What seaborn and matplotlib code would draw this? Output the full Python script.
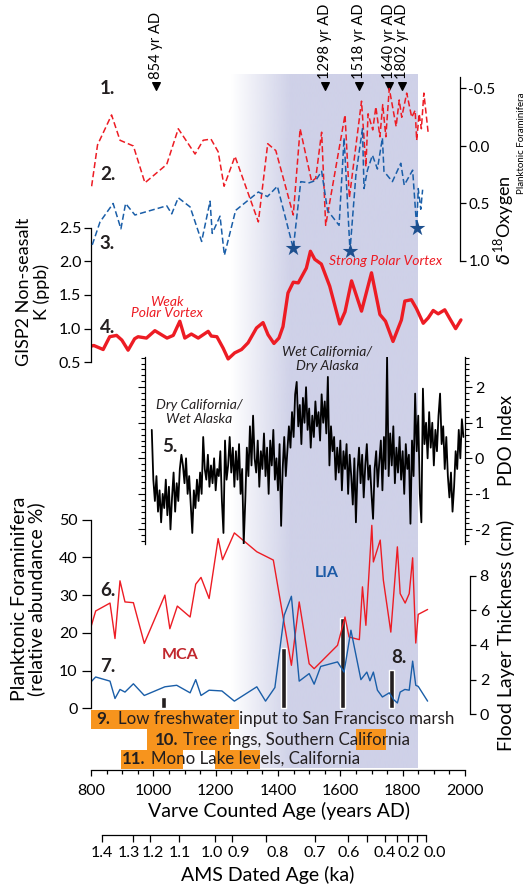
import numpy as np
import matplotlib
matplotlib.use("Agg")
import matplotlib.pyplot as plt
from matplotlib.colors import to_rgb
from matplotlib.patches import Rectangle
from matplotlib.ticker import MultipleLocator, FixedLocator, NullFormatter, FormatStrFormatter
import seaborn as sns

# --- Canvas geometry (pixels of the 526x888 output) ---
W, H = 526, 888
PX_800, PX_2000 = 91, 465   # x pixel of 800 AD and of 2000 AD

# --- Colours ---
RED = '#ed1c24'
BLUE = '#1a5ea8'
STAR_BLUE = '#1d4f8e'
ORANGE = '#f7941d'
LIA_SHADE = '#cfd1e8'
MCA_RED = '#c1272d'
LIA_BLUE = '#1c5aa6'

# --- 1. / 2. d18O planktonic foraminifera (per mil, axis inverted) ---
D18O_RED_YEARS = [802, 821, 866, 893, 936, 973, 1043, 1080, 1134, 1160, 1185, 1208, 1227, 1262, 1337,
                  1367, 1393, 1449, 1471, 1508, 1521, 1540, 1553, 1615, 1629, 1668, 1682, 1689, 1704,
                  1714, 1727, 1736, 1746, 1757, 1779, 1789, 1797, 1813, 1829, 1840, 1845, 1853, 1860,
                  1868, 1882]
D18O_RED = [0.35, -0.01, -0.27, -0.05, 0.00, 0.32, 0.16, -0.15, 0.07, -0.05, -0.06, 0.05, 0.35, 0.09, 0.66,
            -0.02, 0.04, 0.60, -0.15, 0.31, 0.28, -0.12, 0.69, -0.27, 0.45, -0.39, 0.18, -0.28, -0.14,
            -0.34, -0.08, -0.36, -0.08, -0.50, -0.17, -0.40, -0.25, -0.46, -0.25, -0.31, -0.05, -0.28, -0.15,
            -0.46, -0.11]

D18O_BLUE_YEARS = [804, 829, 871, 896, 911, 941, 1043, 1059, 1080, 1118, 1155, 1182, 1189, 1214, 1228,
                   1264, 1337, 1366, 1398, 1449, 1473, 1500, 1521, 1540, 1559, 1596, 1612, 1631, 1650,
                   1671, 1676, 1687, 1703, 1719, 1735, 1740, 1767, 1794, 1805, 1832, 1845, 1850, 1858, 1864]
D18O_BLUE = [0.86, 0.66, 0.50, 0.72, 0.50, 0.60, 0.52, 0.59, 0.45, 0.53, 0.83, 0.48, 0.76, 0.61, 0.95,
             0.56, 0.40, 0.44, 0.35, 0.89, 0.31, 0.32, 0.30, 0.22, 0.56, 0.69, -0.07, 0.91, 0.25,
             -0.15, 0.37, 0.21, 0.08, 0.20, -0.07, 0.22, 0.31, 0.15, 0.34, 0.21, 0.71, 0.37, 0.55, 0.38]

STAR_YEARS = [1449, 1631, 1845]
STAR_D18O = [0.89, 0.91, 0.71]

# --- 4. GISP2 non-seasalt K (ppb) ---
K_YEARS = [800, 809, 839, 860, 882, 899, 919, 940, 951, 978, 1005, 1026, 1044, 1064, 1085, 1101, 1122,
           1144, 1176, 1186, 1204, 1224, 1240, 1261, 1283, 1304, 1331, 1352, 1368, 1387, 1403, 1416,
           1432, 1449, 1465, 1491, 1504, 1518, 1539, 1566, 1598, 1615, 1636, 1668, 1700, 1727, 1745,
           1769, 1796, 1807, 1828, 1844, 1866, 1882, 1898, 1914, 1935, 1951, 1970, 1987]
K_PPB = [0.74, 0.75, 0.69, 0.88, 0.90, 0.83, 0.68, 0.85, 0.88, 0.86, 0.97, 0.91, 0.86, 0.90, 1.11, 0.86, 0.92,
         0.86, 0.96, 0.89, 0.88, 0.71, 0.55, 0.64, 0.69, 0.79, 1.01, 1.09, 0.91, 0.78, 0.86, 1.03,
         1.53, 1.69, 1.68, 1.90, 2.15, 2.03, 1.96, 1.63, 1.07, 1.25, 1.71, 1.26, 1.83, 1.21, 1.11,
         0.81, 1.13, 1.41, 1.43, 1.30, 1.08, 1.16, 1.27, 1.22, 1.28, 1.15, 1.00, 1.13]

# --- 5. PDO index reconstruction, read every 5 years from 995 to 1995 ---
PDO_YEARS = list(range(995, 2000, 5))
PDO_INDEX = [
    0.8, -0.6, -1.2, -0.5, -1.5, -0.9, -1.8, -1.0, -1.4, -0.6,      # 995-1040
    -1.6, -0.8, -2.0, -1.1, -0.4, -1.5, -0.7, -1.2, -0.3, 0.1,      # 1045-1090
    -0.2, -0.7, 0.0, -1.0, -0.5, -1.3, -2.1, -0.9, -1.4, -0.6,      # 1095-1140
    -1.2, -0.4, -1.0, 0.6, -0.3, -0.6, 0.1, -0.8, -0.2, -0.7,       # 1145-1190
    0.0, -0.9, -0.3, -0.5, 0.2, -1.2, -2.1, 0.5, -0.6, -0.2,        # 1195-1240
    0.6, -0.4, 0.3, -0.8, 0.2, -0.6, 0.4, -1.0, -0.3, -2.4,         # 1245-1290
    -1.2, 0.3, -0.5, 0.9, -0.2, 1.2, 0.0, -0.4, 0.5, -0.8,          # 1295-1340
    0.2, -0.3, 0.7, -0.5, 0.3, -1.0, 0.5, -0.2, 0.8, -0.6,          # 1345-1390
    0.0, -0.9, 0.4, -1.9, -0.3, 0.6, -0.5, 0.2, 0.9, 0.3,           # 1395-1440
    1.3, 0.6, 1.8, 2.15, 0.9, 1.5, 0.4, 1.7, 1.0, 2.0,              # 1445-1490
    0.8, 1.4, 0.3, 1.2, 0.6, 1.6, 0.9, 1.3, 0.5, 1.8,               # 1495-1540
    1.0, 1.6, 0.7, 2.29, -0.2, 0.9, 0.2, 0.6, -0.6, 0.3,            # 1545-1590
    -0.4, 0.5, -0.9, 0.2, -0.3, 0.4, -1.0, 0.1, -0.5, -1.3,         # 1595-1640
    0.0, -1.8, -0.4, 0.3, -0.7, 0.1, -1.1, -0.2, 0.4, -0.6,         # 1645-1690
    -0.2, -1.0, -1.7, -0.3, 0.2, -0.8, -0.1, 0.5, -0.9, 0.6,        # 1695-1740
    -0.3, 2.85, -0.5, 0.7, -0.2, 0.9, -0.7, 0.3, -0.4, 0.6,         # 1745-1790
    -0.6, 0.2, -1.0, 0.4, -0.3, 0.1, -1.84, 0.5, -0.5, 1.82,        # 1795-1840
    0.2, 1.2, -1.0, -1.8, 1.96, 0.4, 1.0, 0.0, 1.3, 0.3,            # 1845-1890
    1.0, -0.2, 0.8, 0.2, 1.2, 1.82, 0.4, 0.9, -0.3, 0.6,            # 1895-1940
    -0.5, -1.1, -0.4, -1.5, -0.8, 0.2, -0.3, 0.8, 0.0, 1.1,         # 1945-1990
    0.6,                                                            # 1995
]

# --- 6. / 7. Planktonic foraminifera relative abundance (%) ---
FORAM_RED_YEARS = [800, 815, 861, 877, 893, 909, 936, 971, 1037, 1053, 1077, 1118, 1136, 1153, 1179, 1208,
                   1222, 1260, 1332, 1385, 1443, 1468, 1500, 1516, 1591, 1615, 1628, 1661, 1671, 1682,
                   1701, 1706, 1728, 1738, 1762, 1783, 1792, 1808, 1821, 1832, 1842, 1850, 1880]
FORAM_RED = [21.6, 25.8, 27.9, 18.5, 33.8, 28.2, 28.0, 17.2, 30.0, 21.1, 27.1, 24.2, 32.9, 34.7, 29.1, 45.0,
             39.4, 46.5, 41.5, 39.3, 11.4, 28.2, 11.8, 10.5, 16.7, 24.2, 18.9, 18.2, 32.2, 22.0,
             48.5, 38.8, 44.6, 34.0, 20.2, 42.8, 30.4, 27.9, 30.4, 39.9, 17.3, 24.9, 26.2]

FORAM_BLUE_YEARS = [800, 815, 861, 877, 893, 909, 936, 971, 1037, 1075, 1118, 1136, 1153, 1179, 1220, 1260,
                    1332, 1360, 1390, 1420, 1443, 1468, 1500, 1516, 1537, 1591, 1612, 1634, 1666, 1685,
                    1695, 1706, 1719, 1735, 1757, 1771, 1783, 1792, 1807, 1821, 1832, 1842, 1850, 1880]
FORAM_BLUE = [7.0, 8.3, 7.2, 2.6, 5.0, 4.3, 6.5, 3.4, 5.7, 6.1, 4.1, 7.6, 3.4, 4.8, 4.6, 1.9,
              5.7, 1.9, 5.5, 24.7, 29.7, 7.2, 9.2, 6.4, 11.1, 12.3, 9.6, 20.7, 7.6, 9.6,
              7.3, 9.6, 4.8, 3.0, 4.1, 2.3, 1.4, 4.3, 5.0, 4.8, 12.5, 6.1, 5.8, 1.9]

# --- 8. Flood layer thickness (cm) ---
FLOOD_YEARS = [1032, 1419, 1606, 1765]
FLOOD_CM = [0.98, 3.83, 5.56, 2.57]
FLOOD_BASE = 0.35

# --- 9.-11. Drought records (year spans shown in orange) ---
RECORD_9 = [(800, 1275)]
RECORD_10 = [(979, 1246), (1650, 1746)]
RECORD_11 = [(895, 1096), (1198, 1342)]

# --- Little Ice Age shading (fade-in start, fully shaded, end) ---
LIA_START, LIA_FULL, LIA_END = 1249, 1440, 1846

# --- Dated horizons along the top ---
HORIZON_YEARS = [1008, 1551, 1660, 1756, 1798]
HORIZON_LABELS = ['854 yr AD', '1298 yr AD', '1518 yr AD', '1640 yr AD', '1802 yr AD']

# --- AMS dated age axis ---
AMS_TICK_YEARS = [834, 936, 989, 1082, 1198, 1251, 1360, 1519, 1626, 1684, 1743, 1781, 1818, 1845, 1874]
AMS_LABEL_YEARS = [834, 921, 997, 1086, 1189, 1275, 1398, 1519, 1626, 1743, 1818, 1904]
AMS_LABELS = ['1.4', '1.3', '1.2', '1.1', '1.0', '0.9', '0.8', '0.7', '0.6', '0.4', '0.2', '0.0']


def px_year(px):
    """Horizontal pixel -> varve year."""
    return 800 + (px - PX_800) * 1200.0 / (PX_2000 - PX_800)


def add_panel(fig, py_top, py_bot, v_top, v_bot, z=1):
    ax = fig.add_axes([PX_800 / W, 1 - py_bot / H, (PX_2000 - PX_800) / W, (py_bot - py_top) / H])
    ax.set_zorder(z)
    ax.patch.set_visible(False)
    ax._lims = (v_top, v_bot)
    return ax


def finish_panel(ax):
    v_top, v_bot = ax._lims
    ax.set_xlim(800, 2000)
    ax.set_ylim(v_bot, v_top)
    ax.set_xlabel('')
    ax.set_ylabel('')
    for s in ax.spines.values():
        s.set_visible(False)
    ax.tick_params(axis='x', which='both', bottom=False, top=False, labelbottom=False, labeltop=False)
    ax.tick_params(axis='y', which='both', left=False, right=False, labelleft=False, labelright=False)


def show_spine(ax, side, frac, lw=0.9):
    sp = ax.spines[side]
    sp.set_visible(True)
    sp.set_position(('axes', frac))
    sp.set_linewidth(lw)
    sp.set_color('black')


def build_figure():
    fig = plt.figure(figsize=(W / 100, H / 100), dpi=100)

    # background canvas in (year, pixel row) coordinates
    bg = fig.add_axes([0, 0, 1, 1])
    bg.set_zorder(-1)
    bg.axis('off')

    yrs = np.linspace(LIA_START, LIA_END, 800)
    rgba = np.zeros((1, len(yrs), 4))
    rgba[..., :3] = to_rgb(LIA_SHADE)
    rgba[..., 3] = np.clip((yrs - LIA_START) / (LIA_FULL - LIA_START), 0, 1)
    bg.imshow(rgba, extent=[LIA_START, LIA_END, 768, 75], aspect='auto', interpolation='bilinear', zorder=1)

    for spans, (top, bot) in zip([RECORD_9, RECORD_10, RECORD_11], [(710, 728.5), (729, 750), (749.5, 768.5)]):
        for x0, x1 in spans:
            bg.add_patch(Rectangle((x0, top), x1 - x0, bot - top, color=ORANGE, lw=0, zorder=2))

    bg.set_xlim(px_year(0), px_year(W))
    bg.set_ylim(H, 0)

    def txt(px, py, s, **kw):
        kw.setdefault('va', 'center')
        bg.text(px_year(px), py, s, zorder=5, **kw)

    # record captions
    for num, cap, x_num, x_cap, py in [('9.', 'Low freshwater input to San Francisco marsh', 96.5, 118, 719),
                                       ('10.', 'Tree rings, Southern California', 155, 183, 739.5),
                                       ('11.', 'Mono Lake levels, California', 121.5, 151, 759)]:
        txt(x_num, py, num, fontsize=12.2, fontweight='bold', color='#231f20')
        txt(x_cap, py, cap, fontsize=12.2, color='#231f20')

    # dated horizons
    bg.scatter(HORIZON_YEARS, [86] * len(HORIZON_YEARS), marker='v', s=30, color='black', zorder=5)
    for yr, lab in zip(HORIZON_YEARS, HORIZON_LABELS):
        bg.text(yr, 79, lab, rotation=90, ha='center', va='bottom', fontsize=10.5, zorder=5)

    # panel numbers
    for s, px, py in [('1.', 100, 88), ('2.', 100, 175), ('3.', 99, 243), ('4.', 100, 327),
                      ('5.', 162, 446), ('6.', 100, 590), ('7.', 100, 666), ('8.', 391, 657)]:
        txt(px, py, s, fontsize=13.5, fontweight='bold', color='#231f20')

    txt(180, 655, 'MCA', ha='center', fontsize=11.5, fontweight='bold', color=MCA_RED)
    txt(327, 573, 'LIA', ha='center', fontsize=11.5, fontweight='bold', color=LIA_BLUE)
    txt(167, 307.5, 'Weak\nPolar Vortex', ha='center', fontsize=10, style='italic', color=RED, linespacing=0.95)
    txt(386, 261, 'Strong Polar Vortex', ha='center', fontsize=10, style='italic', color=RED)
    txt(327, 359, 'Wet California/\nDry Alaska', ha='center', fontsize=10, style='italic', color='#231f20',
        linespacing=1.15)
    txt(199, 412, 'Dry California/\nWet Alaska', ha='center', fontsize=10, style='italic', color='#231f20',
        linespacing=1.2)

    # axis titles
    txt(33, 292, 'GISP2 Non-seasalt\nK (ppb)', ha='center', rotation=90, fontsize=13, linespacing=1.05)
    txt(28, 599, 'Planktonic Foraminifera\n(relative abundance %)', ha='center', rotation=90, fontsize=14,
        linespacing=1.0)
    bg.text(px_year(504), 265, r'$\delta^{18}$Oxygen', rotation=90, ha='center', va='bottom', fontsize=13)
    bg.text(px_year(521), 194, 'Planktonic Foraminifera', rotation=90, ha='center', va='bottom', fontsize=7)
    txt(507, 440, 'PDO Index', ha='center', rotation=90, fontsize=13.5)
    txt(506, 635, 'Flood Layer Thickness (cm)', ha='center', rotation=90, fontsize=14)
    txt(279, 811, 'Varve Counted Age (years AD)', ha='center', fontsize=14)
    txt(268, 875, 'AMS Dated Age (ka)', ha='center', fontsize=14)
    for yr, lab in zip(AMS_LABEL_YEARS, AMS_LABELS):
        bg.text(yr, 853, lab, ha='center', va='center', fontsize=11.5)

    # --- flood layers (under the foram curves) ---
    ax_fl = add_panel(fig, 575.5, 714.3, 8, 0, z=1)
    ax_fl.bar(FLOOD_YEARS, np.array(FLOOD_CM) - FLOOD_BASE, bottom=FLOOD_BASE, width=16, color='#231f20')
    finish_panel(ax_fl)
    show_spine(ax_fl, 'right', (470 - PX_800) / (PX_2000 - PX_800))
    ax_fl.yaxis.set_major_locator(FixedLocator([0, 2, 4, 6, 8]))
    ax_fl.tick_params(axis='y', right=True, labelright=True, direction='out', length=4, width=0.9, pad=3,
                      labelsize=11.5)

    # --- foraminifera abundance ---
    ax_fo = add_panel(fig, 519.7, 708.3, 50, 0, z=2)
    sns.lineplot(x=FORAM_RED_YEARS, y=FORAM_RED, ax=ax_fo, color=RED, lw=1.0, estimator=None)
    sns.lineplot(x=FORAM_BLUE_YEARS, y=FORAM_BLUE, ax=ax_fo, color=BLUE, lw=1.0, estimator=None)
    finish_panel(ax_fo)
    show_spine(ax_fo, 'left', 0)
    ax_fo.yaxis.set_major_locator(FixedLocator([0, 10, 20, 30, 40, 50]))
    ax_fo.tick_params(axis='y', left=True, labelleft=True, direction='out', length=6.5, width=0.9, pad=3,
                      labelsize=11.5)

    # --- PDO ---
    ax_pdo = add_panel(fig, 357, 544, 2.85, -2.41, z=3)
    sns.lineplot(x=PDO_YEARS, y=PDO_INDEX, ax=ax_pdo, color='black', lw=1.3, estimator=None)
    finish_panel(ax_pdo)
    show_spine(ax_pdo, 'left', (145 - PX_800) / (PX_2000 - PX_800))
    show_spine(ax_pdo, 'right', 1.0)
    ax_pdo.yaxis.set_major_locator(FixedLocator([-2, -1, 0, 1, 2]))
    ax_pdo.yaxis.set_minor_locator(MultipleLocator(1 / 6))
    ax_pdo.tick_params(axis='y', which='both', left=True, right=True, labelright=True, direction='out',
                       width=0.8, labelsize=11.5)
    ax_pdo.tick_params(axis='y', which='major', length=5, pad=2)
    ax_pdo.tick_params(axis='y', which='minor', length=3)

    # --- GISP2 K ---
    ax_k = add_panel(fig, 227.7, 362.3, 2.5, 0.5, z=4)
    sns.lineplot(x=K_YEARS, y=K_PPB, ax=ax_k, color=RED, lw=2.4, estimator=None)
    finish_panel(ax_k)
    show_spine(ax_k, 'left', 0)
    ax_k.yaxis.set_major_locator(FixedLocator([0.5, 1.0, 1.5, 2.0, 2.5]))
    ax_k.yaxis.set_major_formatter(FormatStrFormatter('%.1f'))
    ax_k.tick_params(axis='y', left=True, labelleft=True, direction='out', length=5, width=0.9, pad=2,
                     labelsize=11.5)

    # --- d18O ---
    ax_o = add_panel(fig, 77, 261, -0.6, 1.0, z=5)
    sns.lineplot(x=D18O_RED_YEARS, y=D18O_RED, ax=ax_o, color=RED, lw=1.1, linestyle=(0, (4, 2)),
                 estimator=None)
    sns.lineplot(x=D18O_BLUE_YEARS, y=D18O_BLUE, ax=ax_o, color=BLUE, lw=1.1, linestyle=(0, (4, 2)),
                 estimator=None)
    ax_o.scatter(STAR_YEARS, STAR_D18O, marker='*', s=140, color=STAR_BLUE, lw=0, zorder=5, clip_on=False)
    finish_panel(ax_o)
    show_spine(ax_o, 'right', (460 - PX_800) / (PX_2000 - PX_800))
    ax_o.yaxis.set_major_locator(FixedLocator([-0.5, 0.0, 0.5, 1.0]))
    ax_o.yaxis.set_major_formatter(FormatStrFormatter('%.1f'))
    ax_o.tick_params(axis='y', right=True, labelright=True, direction='out', length=4, width=0.9, pad=2,
                     labelsize=11)

    # --- varve age axis ---
    ax_x = fig.add_axes([PX_800 / W, 1 - 770 / H, (PX_2000 - PX_800) / W, 0.001])
    ax_x.patch.set_visible(False)
    for side in ['left', 'right', 'top']:
        ax_x.spines[side].set_visible(False)
    ax_x.spines['bottom'].set_linewidth(0.9)
    ax_x.spines['bottom'].set_color('black')
    ax_x.set_xlim(800, 2000)
    ax_x.set_yticks([])
    ax_x.xaxis.set_major_locator(MultipleLocator(200))
    ax_x.xaxis.set_minor_locator(MultipleLocator(50))
    ax_x.tick_params(axis='x', which='both', bottom=True, direction='out', width=0.9, labelsize=11.5)
    ax_x.tick_params(axis='x', which='major', length=4.5, pad=5.5)
    ax_x.tick_params(axis='x', which='minor', length=3)

    # --- AMS age axis ---
    ax_a = fig.add_axes([PX_800 / W, 1 - 835 / H, (PX_2000 - PX_800) / W, 0.001])
    ax_a.patch.set_visible(False)
    for side in ['left', 'right', 'top']:
        ax_a.spines[side].set_visible(False)
    ax_a.set_xlim(800, 2000)
    ax_a.spines['bottom'].set_bounds(AMS_TICK_YEARS[0], AMS_TICK_YEARS[-1])
    ax_a.spines['bottom'].set_linewidth(0.9)
    ax_a.spines['bottom'].set_color('black')
    ax_a.set_yticks([])
    ax_a.xaxis.set_major_locator(FixedLocator(AMS_TICK_YEARS))
    ax_a.xaxis.set_major_formatter(NullFormatter())
    ax_a.tick_params(axis='x', bottom=True, direction='out', length=5, width=0.9)

    return fig


if __name__ == "__main__":
    sns.set_theme(style="ticks", rc={'axes.edgecolor': 'black', 'xtick.color': 'black',
                                     'ytick.color': 'black', 'text.color': 'black'})
    plt.rcParams['font.family'] = ['Lato', 'DejaVu Sans']
    plt.rcParams['axes.unicode_minus'] = False
    plt.rcParams['mathtext.fontset'] = 'custom'
    plt.rcParams['mathtext.rm'] = 'Lato'
    fig = build_figure()
    fig.savefig('out.png', dpi=100)
    plt.close(fig)
